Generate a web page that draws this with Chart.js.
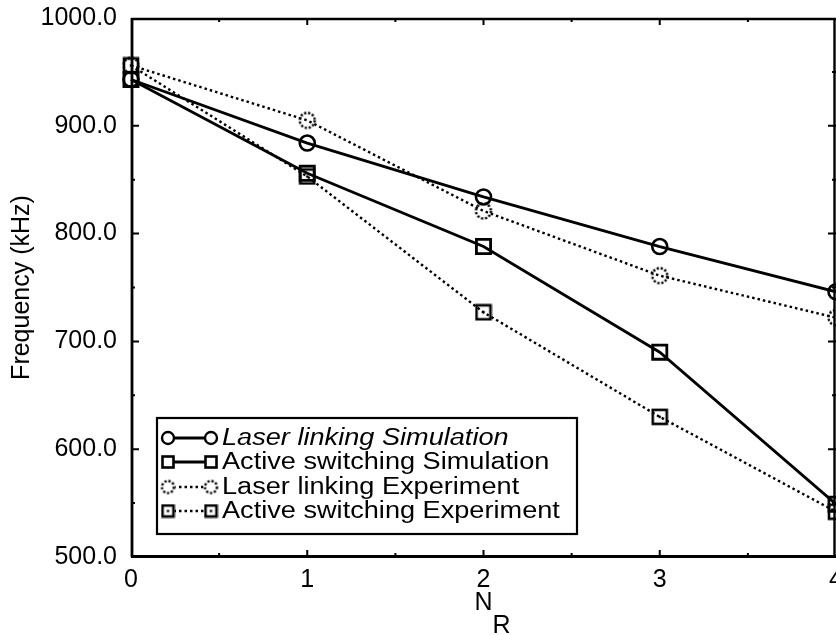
<!DOCTYPE html>
<html>
<head>
<meta charset="utf-8">
<script src="https://cdn.jsdelivr.net/npm/chart.js@4.4.0/dist/chart.umd.min.js"></script>
<style>
  html, body { margin: 0; padding: 0; background: #fff; overflow: hidden; }
  canvas { display: block; }
</style>
</head>
<body>
<canvas id="c" width="836" height="635"></canvas>
<script>
// Number of relays N_R and measured/simulated frequency (kHz)
const nR = [0, 1, 2, 3, 4];
const laserSim = [943, 884, 834, 788, 746];
const activeSim = [943, 856, 788, 690, 549];
const laserExp = [956, 905, 821, 761, 722];
const activeExp = [956, 853, 727, 630, 542];
const seriesNames = [
  'Laser linking Simulation',
  'Active switching Simulation',
  'Laser linking Experiment',
  'Active switching Experiment'
];
const yMin = 500, yMax = 1000, yStep = 100;
const xMin = 0, xMax = 4, xStep = 1;

const FONT = '"Liberation Sans", Arial, Helvetica, sans-serif';
const INK = '#000';

// Marker glyphs for the experimental series
function dottedCircle(r) {
  const s = Math.ceil(2 * r + 5);
  const cv = document.createElement('canvas');
  cv.width = s; cv.height = s;
  const g = cv.getContext('2d');
  g.strokeStyle = INK; g.lineWidth = 2.4;
  g.setLineDash([2.2, 1.8]);
  g.beginPath(); g.arc(s / 2, s / 2, r, 0, Math.PI * 2); g.stroke();
  return cv;
}
function dotSquare(half) {
  const s = Math.ceil(2 * half + 4);
  const cv = document.createElement('canvas');
  cv.width = s; cv.height = s;
  const g = cv.getContext('2d');
  g.strokeStyle = INK; g.lineWidth = 2.6;
  g.strokeRect(s / 2 - half, s / 2 - half, 2 * half, 2 * half);
  g.fillStyle = INK;
  g.fillRect(s / 2 - 1.2, s / 2 - 1.2, 2.4, 2.4);
  return cv;
}
const expCircle = dottedCircle(7.5);
const expSquare = dotSquare(7);
const expCircleSmall = dottedCircle(6);
const expSquareSmall = dotSquare(5.5);

const pts = ys => nR.map((x, i) => ({ x: x, y: ys[i] }));

const datasets = [
  { label: seriesNames[0], data: pts(laserSim), borderColor: INK, borderWidth: 2.8,
    pointStyle: 'circle', pointRadius: 7.5, pointBorderWidth: 2.6,
    pointBorderColor: INK, pointBackgroundColor: 'rgba(0,0,0,0)' },
  { label: seriesNames[1], data: pts(activeSim), borderColor: INK, borderWidth: 2.8,
    pointStyle: 'rect', pointRadius: 10, pointBorderWidth: 2.8,
    pointBorderColor: INK, pointBackgroundColor: 'rgba(0,0,0,0)' },
  { label: seriesNames[2], data: pts(laserExp), borderColor: INK, borderWidth: 2.4,
    borderDash: [2.5, 3], pointStyle: expCircle, pointRadius: 8 },
  { label: seriesNames[3], data: pts(activeExp), borderColor: INK, borderWidth: 2.4,
    borderDash: [2.5, 3], pointStyle: expSquare, pointRadius: 8 }
].map(d => Object.assign(d, { showLine: true, fill: false, tension: 0, clip: false }));

// Let the plot run right up to the canvas edge (last tick label is cut)
const edgePlugin = {
  id: 'edge',
  afterLayout(chart) {
    const xs = chart.scales.x;
    const a = chart.chartArea;
    a.right = chart.width;
    a.width = a.right - a.left;
    xs.right = chart.width;
    xs.width = xs.right - xs.left;
    xs.configure();
  }
};

// Box frame with inward major/minor ticks on all four sides
const framePlugin = {
  id: 'frame',
  afterDatasetsDraw(chart) {
    const { ctx, chartArea: a, scales: { x, y } } = chart;
    ctx.save();
    ctx.strokeStyle = INK;
    ctx.lineCap = 'butt';
    ctx.lineWidth = 2.8;
    ctx.beginPath();
    ctx.moveTo(a.left + 1, a.top); ctx.lineTo(a.left + 1, a.bottom);
    ctx.moveTo(a.left, a.bottom - 0.5); ctx.lineTo(a.right, a.bottom - 0.5);
    ctx.stroke();
    ctx.lineWidth = 2.4;
    ctx.beginPath();
    ctx.moveTo(a.left, a.top + 1); ctx.lineTo(a.right, a.top + 1);
    ctx.moveTo(a.right - 1.5, a.top); ctx.lineTo(a.right - 1.5, a.bottom);
    ctx.stroke();
    ctx.lineWidth = 2;
    ctx.beginPath();
    for (let v = yMin; v <= yMax; v += yStep / 2) {
      const py = y.getPixelForValue(v);
      const len = (v % yStep === 0) ? 8 : 4;
      if (v !== yMin && v !== yMax) {
        ctx.moveTo(a.left, py); ctx.lineTo(a.left + len, py);
        ctx.moveTo(a.right, py); ctx.lineTo(a.right - len, py);
      }
    }
    for (let v = xMin; v <= xMax; v += xStep / 2) {
      const px = x.getPixelForValue(v);
      const len = (v % xStep === 0) ? 7 : 4;
      if (v !== xMin && v !== xMax) {
        ctx.moveTo(px, a.bottom); ctx.lineTo(px, a.bottom - len);
        ctx.moveTo(px, a.top); ctx.lineTo(px, a.top + len);
      }
    }
    ctx.stroke();
    ctx.restore();
  }
};

// Axis title N with subscript R
const xTitlePlugin = {
  id: 'xTitle',
  afterDraw(chart) {
    const { ctx, chartArea: a } = chart;
    const cx = (a.left + a.right) / 2;
    ctx.save();
    ctx.fillStyle = INK;
    ctx.font = '25px ' + FONT;
    ctx.textAlign = 'center';
    ctx.textBaseline = 'middle';
    ctx.fillText('N', cx, a.bottom + 46);
    ctx.fillText('R', cx + 18, a.bottom + 69);
    ctx.restore();
  }
};

// Boxed legend with marker-line-marker samples
const boxLegendPlugin = {
  id: 'boxLegend',
  afterDraw(chart) {
    const { ctx } = chart;
    const box = { l: 157, t: 418, r: 577, b: 534 };
    const rows = [438, 462, 487, 511];
    const m1 = 168, m2 = 211, tx = 222;
    ctx.save();
    ctx.fillStyle = '#fff';
    ctx.fillRect(box.l, box.t, box.r - box.l, box.b - box.t);
    ctx.strokeStyle = INK; ctx.lineWidth = 2.2;
    ctx.strokeRect(box.l, box.t, box.r - box.l, box.b - box.t);
    chart.data.datasets.forEach((ds, i) => {
      const yy = rows[i];
      ctx.save();
      ctx.strokeStyle = INK;
      ctx.lineWidth = ds.borderWidth;
      ctx.setLineDash(ds.borderDash || []);
      ctx.beginPath(); ctx.moveTo(m1, yy); ctx.lineTo(m2, yy); ctx.stroke();
      ctx.setLineDash([]);
      [m1, m2].forEach(mx => {
        if (i === 0) {
          ctx.fillStyle = '#fff';
          ctx.beginPath(); ctx.arc(mx, yy, 6, 0, Math.PI * 2); ctx.fill();
          ctx.lineWidth = 2.4; ctx.stroke();
        } else if (i === 1) {
          ctx.fillStyle = '#fff';
          ctx.fillRect(mx - 5.5, yy - 5.5, 11, 11);
          ctx.lineWidth = 2.6; ctx.strokeRect(mx - 5.5, yy - 5.5, 11, 11);
        } else {
          const img = i === 2 ? expCircleSmall : expSquareSmall;
          ctx.fillStyle = '#fff';
          ctx.fillRect(mx - img.width / 2 + 1, yy - img.height / 2 + 1, img.width - 2, img.height - 2);
          ctx.drawImage(img, mx - img.width / 2, yy - img.height / 2);
        }
      });
      ctx.restore();
      ctx.save();
      ctx.fillStyle = INK;
      ctx.font = (i === 0 ? 'italic ' : '') + '23px ' + FONT;
      ctx.textBaseline = 'middle';
      ctx.translate(tx, yy + 1);
      ctx.scale(1.18, 1);
      ctx.fillText(ds.label, 0, 0);
      ctx.restore();
    });
    ctx.restore();
  }
};

new Chart(document.getElementById('c'), {
  type: 'scatter',
  data: { datasets: datasets },
  options: {
    responsive: false,
    animation: false,
    devicePixelRatio: 1,
    layout: { padding: { top: 18, left: 0, right: 0, bottom: 0 } },
    plugins: { legend: { display: false }, tooltip: { enabled: false } },
    scales: {
      x: {
        type: 'linear', min: xMin, max: xMax,
        grid: { display: false, drawTicks: false },
        border: { display: false },
        ticks: { stepSize: xStep, color: INK, padding: 8,
                 font: { family: FONT, size: 25 }, maxRotation: 0,
                 callback: v => String(v) },
        afterFit(s) { s.height = 78; s.paddingLeft = 0; s.paddingRight = 0; }
      },
      y: {
        type: 'linear', min: yMin, max: yMax,
        grid: { display: false, drawTicks: false },
        border: { display: false },
        ticks: { stepSize: yStep, color: INK, padding: 14,
                 font: { family: FONT, size: 25 },
                 callback: v => Number(v).toFixed(1) },
        title: { display: true, text: 'Frequency (kHz)', color: INK,
                 font: { family: FONT, size: 25 }, padding: { top: 7, bottom: 0 } },
        afterFit(s) { s.width = 131; s.paddingTop = 0; s.paddingBottom = 0; }
      }
    }
  },
  plugins: [edgePlugin, framePlugin, xTitlePlugin, boxLegendPlugin]
});
</script>
</body>
</html>
